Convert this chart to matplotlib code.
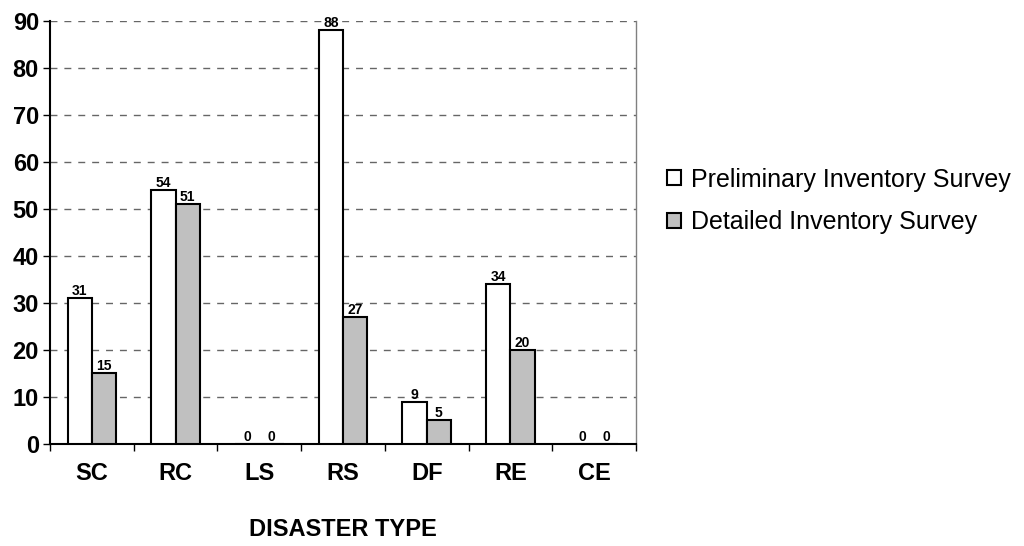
import matplotlib
matplotlib.use("Agg")
import matplotlib.pyplot as plt
import numpy as np

plt.rcParams['font.family'] = ['Liberation Sans', 'DejaVu Sans']

categories = ["SC", "RC", "LS", "RS", "DF", "RE", "CE"]
preliminary = [31, 54, 0, 88, 9, 34, 0]
detailed = [15, 51, 0, 27, 5, 20, 0]

fig = plt.figure(figsize=(10.24, 5.46), dpi=100)
ax = fig.add_axes([50/1024, 1 - 444/546, 586/1024, 423.3/546])

centers = np.arange(len(categories)) + 0.5
width = 0.29

b1 = ax.bar(centers - width/2, preliminary, width=width, color='white',
            edgecolor='black', linewidth=1.5, label="Preliminary Inventory Survey", zorder=3)
b2 = ax.bar(centers + width/2, detailed, width=width, color='#C0C0C0',
            edgecolor='black', linewidth=1.5, label="Detailed Inventory Survey", zorder=3)

# value labels on top of each bar
for bars, vals in ((b1, preliminary), (b2, detailed)):
    for b, v in zip(bars, vals):
        ax.text(b.get_x() + b.get_width()/2, v, str(v), ha='center', va='bottom',
                fontsize=10, fontweight='bold', zorder=4)

ax.set_xlim(0, len(categories))
ax.set_ylim(0, 90)
ax.set_yticks(np.arange(0, 91, 10))
ax.yaxis.grid(True, linestyle=(0, (5, 5)), color='#666666', linewidth=1.0, zorder=0)

ax.set_xticks(np.arange(len(categories) + 1))
ax.set_xticklabels([])
ax.set_xticks(centers, minor=True)
ax.set_xticklabels(categories, minor=True)
ax.tick_params(axis='x', which='major', direction='out', length=5, width=1)
ax.tick_params(axis='x', which='minor', length=0, pad=13, labelsize=17)
for t in ax.get_xticklabels(minor=True):
    t.set_fontweight('bold')
ax.tick_params(axis='y', direction='out', length=5, width=1, pad=3, labelsize=17)
for t in ax.get_yticklabels():
    t.set_fontweight('bold')

ax.spines['top'].set_visible(False)
ax.spines['right'].set_color('#808080')
ax.spines['right'].set_linewidth(1.0)
ax.spines['left'].set_linewidth(1.5)
ax.spines['bottom'].set_linewidth(1.5)

ax.set_xlabel("DISASTER TYPE", fontsize=17, fontweight='bold', labelpad=24)

fig.legend(handles=[b1, b2], loc='center left', bbox_to_anchor=(667/1024, 1 - 201/546),
           frameon=False, fontsize=18, handlelength=0.55, handleheight=0.55,
           handletextpad=0.4, labelspacing=0.75, borderpad=0, borderaxespad=0)

fig.savefig("out.png", dpi=100)
